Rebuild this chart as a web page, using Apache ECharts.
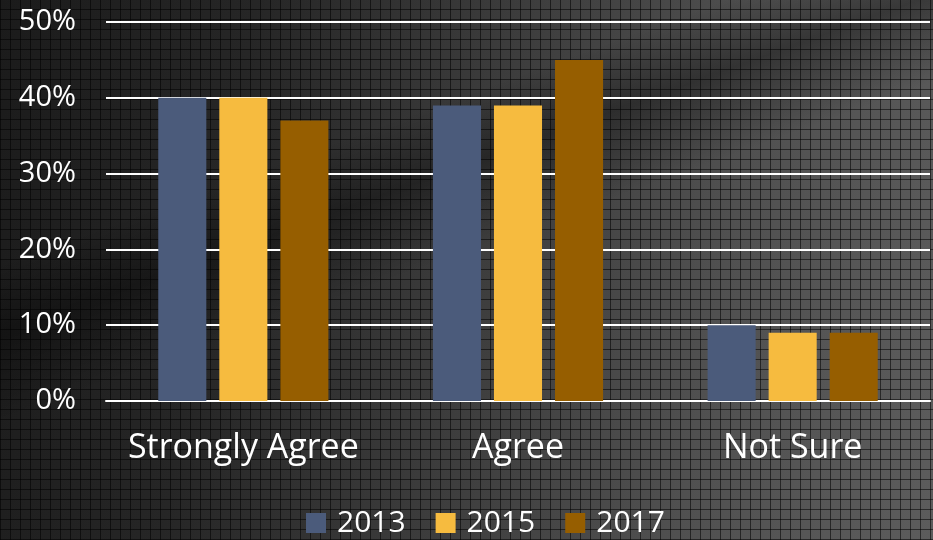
<!DOCTYPE html>
<html>
<head>
<meta charset="utf-8">
<script src="https://cdn.jsdelivr.net/npm/echarts@6/dist/echarts.min.js"></script>
<style>
html,body{margin:0;padding:0;}
body{
  width:933px;height:540px;overflow:hidden;
  background:
    repeating-linear-gradient(90deg, rgba(0,0,0,0.55) 0 1px, transparent 1px 10px),
    repeating-linear-gradient(0deg, rgba(0,0,0,0.55) 0 1px, transparent 1px 10px),
    linear-gradient(160deg, rgba(0,0,0,0) 0%, rgba(0,0,0,0) 30%, rgba(0,0,0,0.35) 38%, rgba(0,0,0,0) 48%, rgba(0,0,0,0) 100%),
    linear-gradient(100deg, #1b1b1b 0%, #262626 25%, #3c3c3c 50%, #505050 75%, #5c5c5c 100%);
}
#chart{width:933px;height:540px;}
</style>
</head>
<body>
<div id="chart"></div>
<script>
const categories = ['Strongly Agree', 'Agree', 'Not Sure'];
const seriesNames = ['2013', '2015', '2017'];
const values2013 = [40, 39, 10];
const values2015 = [40, 39, 9];
const values2017 = [37, 45, 9];
const yTicks = [0, 10, 20, 30, 40, 50];
const colors = ['#4B5B7B', '#F6BB3F', '#965E00'];

const chart = echarts.init(document.getElementById('chart'), null, {renderer: 'canvas'});
const font = "'Open Sans', 'Noto Sans', sans-serif";
const allValues = [values2013, values2015, values2017];
chart.setOption({
  backgroundColor: 'transparent',
  color: colors,
  grid: {left: 106, right: 3, top: 22, bottom: 139, containLabel: false},
  legend: {
    bottom: 2, left: 306, padding: 0,
    itemWidth: 20, itemHeight: 20, itemGap: 30,
    icon: 'rect',
    textStyle: {color: '#ffffff', fontSize: 30, fontFamily: font, padding: [0, 0, 0, 6]},
    data: seriesNames
  },
  xAxis: {
    type: 'category', data: categories,
    axisLine: {show: true, lineStyle: {color: '#ffffff', width: 2}},
    axisTick: {show: false},
    axisLabel: {color: '#ffffff', fontSize: 34, fontFamily: font, margin: 30, interval: 0}
  },
  yAxis: {
    type: 'value', min: yTicks[0], max: yTicks[yTicks.length - 1], interval: 10,
    axisLine: {show: false}, axisTick: {show: false},
    axisLabel: {color: '#ffffff', fontSize: 29, fontFamily: font, margin: 30,
      formatter: v => v + '%'},
    splitLine: {lineStyle: {color: '#ffffff', width: 2}}
  },
  series: seriesNames.map((n, i) => ({
    name: n, type: 'bar', data: allValues[i],
    barWidth: '17.5%', barGap: '27%', barCategoryGap: '38%',
    itemStyle: {color: colors[i]}
  }))
});
</script>
</body>
</html>
